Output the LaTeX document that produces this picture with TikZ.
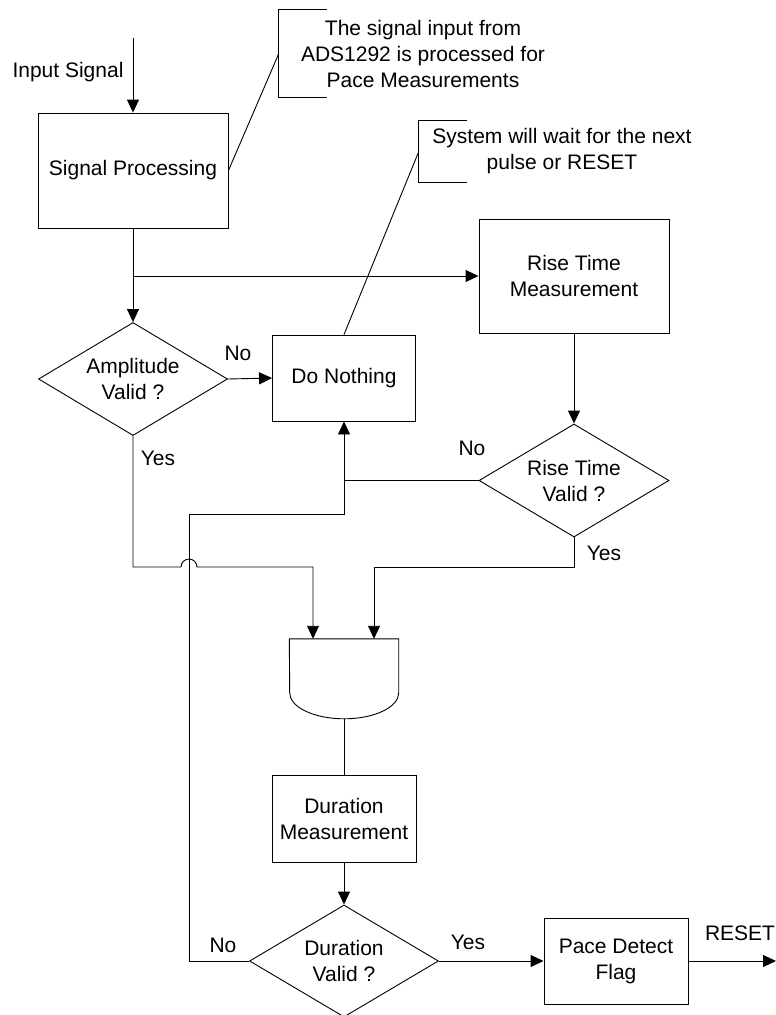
\documentclass[tikz,border=0pt]{standalone}
\usepackage{fontspec}
\setmainfont{Liberation Sans}
\usetikzlibrary{shapes.geometric,arrows.meta}
\begin{document}
\begin{tikzpicture}[x=1pt,y=1pt,
  every node/.style={font=\fontsize{21}{26}\selectfont, align=center, inner sep=0pt},
  line/.style={line width=0.9pt, draw=black},
  arr/.style={line, -{Triangle[length=13pt,width=12pt]}},
  box/.style={line, rectangle},
  dec/.style={line, diamond, aspect=1.7}]
\useasboundingbox (0,0) rectangle (776,-1015);
\fill[white] (0,0) rectangle (776,-1015);

% process boxes
\node[box, minimum width=190pt, minimum height=115pt] (sp) at (133,-170.5) {Signal Processing};
\node[box, minimum width=190pt, minimum height=114pt] (rtm) at (574,-276) {Rise Time\\Measurement};
\node[box, minimum width=143pt, minimum height=86pt] (dn) at (344,-378) {Do Nothing};
\node[box, minimum width=144pt, minimum height=87pt] (dm) at (344,-818.5) {Duration\\Measurement};
\node[box, minimum width=144pt, minimum height=86pt] (pdf) at (616,-961) {Pace Detect\\Flag};

% decisions
\node[dec, minimum width=189pt, minimum height=113pt] (ad) at (133,-379) {Amplitude\\Valid ?};
\node[dec, minimum width=190pt, minimum height=113pt] (rtv) at (574,-480.5) {Rise Time\\Valid ?};
\node[dec, minimum width=189pt, minimum height=112pt] (dv) at (344,-961) {Duration\\Valid ?};

% AND gate
\node[minimum width=109pt, minimum height=80pt] (gate) at (344,-679) {};
\draw[line] (gate.north west) -- (gate.north east) -- ++(0,-54)
  arc[start angle=0, end angle=-180, x radius=54.5pt, y radius=26pt] -- cycle;
\coordinate (g1) at ([xshift=-31pt]gate.north);
\coordinate (g2) at ([xshift=30pt]gate.north);

% callouts
\node[minimum width=48pt, minimum height=87pt] (c1) at (303,-53.5) {};
\draw[line] (c1.north east) -- (c1.north west) -- (c1.south west) -- (c1.south east);
\node (t1) at (423,-53.5) {The signal input from\\ADS1292 is processed for\\Pace Measurements};
\draw[line] (sp.east) -- (c1.west);

\node[minimum width=48pt, minimum height=61pt] (c2) at (443,-151.5) {};
\draw[line] (c2.north east) -- (c2.north west) -- (c2.south west) -- (c2.south east);
\node (t2) at (562,-151.5) {System will wait for the next\\pulse or RESET};
\draw[line] (dn.north) -- (c2.west);

% connectors
\coordinate (insrc) at (133,-38);
\draw[arr] (insrc) -- (sp.north);
\node (tin) at (68,-72) {Input Signal};

\draw[arr] (sp.south) -- (ad.north);
\draw[arr] (sp.south |- rtm.west) -- (rtm.west);

\draw[arr] (ad.east) -- (dn.west);
\node (no1) at (238,-353) {No};

\draw[arr] (rtm.south) -- (rtv.north);
\draw[arr] (rtv.west) -| (dn.south);
\node (no2) at (472,-448) {No};

\coordinate (loop) at (189,-514);
\draw[line] (dv.west) -| (loop) -- (dn.south |- loop) -- (dn.south |- rtv.west);
\node (no3) at (223,-945) {No};

\coordinate (hop) at (189,-567);
\draw[arr] (ad.south) |- ([xshift=-8pt]hop)
  arc[start angle=180, end angle=0, radius=8pt] -- (hop -| g1) -- (g1);
\node (yes1) at (158,-458) {Yes};

\draw[arr] (rtv.south) |- (hop -| g2) -- (g2);
\node (yes2) at (604,-553) {Yes};

\draw[line] (gate.south) -- (dm.north);
\draw[arr] (dm.south) -- (dv.north);
\draw[arr] (dv.east) -- (pdf.west);
\node (yes3) at (468,-942) {Yes};

\coordinate (rst) at (776,-961);
\draw[arr] (pdf.east) -- (rst);
\node (treset) at (740,-933) {RESET};
\end{tikzpicture}
\end{document}
